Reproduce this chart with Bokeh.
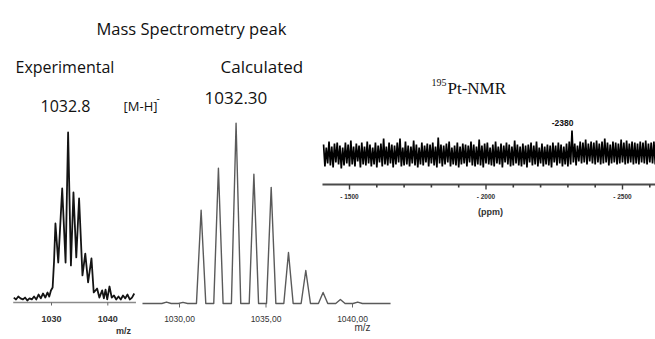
from bokeh.plotting import figure
from bokeh.models import Range1d, Label
from bokeh.core.properties import value
from bokeh.embed import file_html
from bokeh.resources import INLINE
import numpy as np

# ---------------- data ----------------
# Experimental MS trace (m/z, relative intensity %)
exp_mz = [1023.3, 1023.7, 1024.1, 1024.5, 1024.9, 1025.3, 1025.7, 1026.1, 1026.5, 1026.9,
          1027.3, 1027.7, 1028.1, 1028.5, 1028.9, 1029.3, 1029.6, 1029.9, 1030.2, 1030.45,
          1030.7, 1031.2, 1031.9, 1032.5, 1032.95, 1033.45, 1033.9, 1034.4, 1034.9, 1035.5,
          1036.0, 1036.5, 1037.1, 1037.5, 1038.1, 1038.5, 1039.0, 1039.3, 1039.6, 1039.9,
          1040.3, 1040.7, 1041.1, 1041.5, 1041.9, 1042.3, 1042.7, 1043.1, 1043.5, 1043.9,
          1044.3, 1044.7]
exp_int = [2.9, 1.8, 3.5, 2.4, 1.8, 2.9, 1.2, 2.4, 1.8, 3.5,
           1.8, 4.7, 2.4, 5.3, 2.9, 5.9, 3.5, 7.1, 8.8, 24.0,
           46.5, 23.5, 67.1, 23.5, 100.0, 21.8, 64.7, 26.5, 61.2, 15.9,
           28.8, 11.8, 25.9, 5.9, 8.2, 2.9, 7.1, 2.4, 7.6, 1.8,
           9.4, 2.9, 4.1, 1.8, 3.5, 1.8, 4.1, 2.4, 4.7, 1.8,
           2.9, 5.3]
exp_span = [1023.2, 1045.0]
exp_ticks = [1030, 1040]
exp_tick_labels = ["1030", "1040"]

# Calculated isotope pattern (m/z, relative intensity %)
calc_mz = [1029.25, 1030.2, 1031.25, 1032.25, 1033.27, 1034.3, 1035.3, 1036.3, 1037.3, 1038.3, 1039.3, 1040.3]
calc_int = [0.8, 0.6, 51.7, 75.0, 100.0, 71.7, 64.4, 28.3, 18.3, 6.1, 2.2, 0.8]
calc_span = [1027.86, 1042.2]
calc_ticks = [1030, 1035, 1040]
calc_tick_labels = ["1030,00", "1035,00", "1040,00"]

# 195Pt-NMR trace (intensity, a.u.) sampled every 5 ppm from -1405 ppm
nmr_amp = [10, -12, 7, -9, 13, -11, 8, -13, 11, -8,
           12, -10, 9, -14, 7, -11, 12, -9, 10, -12,
           14, -10, 8, -12, 11, -7, 9, -13, 12, -10,
           8, -11, 13, -9, 10, -12, 7, -10, 12, -13,
           9, -8, 11, -12, 16, -10, 8, -11, 12, -9,
           10, -13, 9, -10, 12, -8, 16, -12, 7, -11,
           13, -10, 9, -12, 8, -9, 14, -11, 10, -13,
           7, -10, 12, -11, 9, -8, 11, -12, 10, -9,
           12, -11, 8, -13, 17, -9, 10, -12, 9, -10,
           11, -8, 13, -12, 7, -10, 9, -11, 12, -13,
           8, -10, 11, -9, 10, -12, 9, -8, 13, -11,
           10, -12, 8, -10, 15, -11, 9, -13, 11, -9,
           12, -10, 7, -11, 10, -12, 13, -9, 8, -10,
           11, -13, 9, -8, 12, -10, 10, -12, 8, -11,
           14, -9, 10, -11, 8, -12, 11, -10, 9, -13,
           10, -8, 12, -11, 9, -10, 13, -12, 7, -9,
           11, -12, 8, -10, 10, -11, 9, -13, 12, -8,
           9, -11, 12, -9, 10, -12, 8, -10, 11, -12,
           13, -10, 24, -8, 11, -11, 9, -7, 13, -9,
           12, -8, 15, -10, 11, -7, 13, -9, 12, -10,
           14, -8, 11, -10, 13, -9, 16, -8, 12, -11,
           10, -9, 13, -8, 12, -10, 11, -9, 15, -8,
           12, -10, 14, -9, 11, -8, 13, -10, 12, -9,
           11, -10, 13, -8, 12, -9, 14, -10, 11, -8,
           12, -9, 13, -10]
nmr_ppm = list(np.arange(-1405, -1405 - 5 * len(nmr_amp), -5))
nmr_span = [-1401, -2620]
nmr_major_ticks = [-1500, -2000, -2500]
nmr_major_labels = ["- 1500", "- 2000", "- 2500"]
nmr_minor_ticks = [-1600, -1700, -1800, -1900, -2100, -2200, -2300, -2400, -2600]
nmr_peak_label = "-2380"

# ---------------- layout ----------------
W, H = 655, 339
XL, XR = 0, W              # reference pixel columns covered by the figure
YB, YT = H, 0              # reference pixel rows (bottom, top)


def fit(v0, p0, v1, p1, lo, hi):
    s = (v1 - v0) / (p1 - p0)
    return Range1d(start=v0 + (lo - p0) * s, end=v0 + (hi - p0) * s)


p = figure(width=W, height=H, x_range=Range1d(XL, XR), y_range=Range1d(YB, YT),
           x_axis_type=None, y_axis_type=None, toolbar_location=None,
           output_backend="svg", min_border=0, outline_line_color=None)
p.xgrid.visible = False
p.ygrid.visible = False

p.extra_x_ranges = {
    "exp": fit(1030, 51, 1040, 107.3, XL, XR),
    "calc": fit(1030, 179, 1040, 352, XL, XR),
    "nmr": fit(-1500, 349, -2500, 622, XL, XR),
}
p.extra_y_ranges = {
    "exp": fit(0, 302, 100, 132, YB, YT),
    "calc": fit(0, 303, 100, 122.7, YB, YT),
    "nmr": fit(0, 154, 10, 144, YB, YT),
}

SANS = value("Liberation Sans")

# ---- experimental panel ----
p.segment(x0=[exp_span[0]], x1=[exp_span[1]], y0=[302], y1=[302], x_range_name="exp",
          line_color="#8a8a8a", line_width=1.6)
p.segment(x0=exp_ticks, x1=exp_ticks, y0=302, y1=305, x_range_name="exp",
          line_color="#666666", line_width=1)
p.line(exp_mz, exp_int, x_range_name="exp", y_range_name="exp",
       line_color="#141414", line_width=1.8, line_join="round")
p.text(x=exp_ticks, y=318, text=exp_tick_labels, x_range_name="exp",
       text_font=SANS, text_font_size="9px", text_font_style="bold",
       text_align="center", text_baseline="alphabetic", text_color="#333333")

# ---- calculated panel ----
hw = 0.27
cx = [calc_span[0]]
cy = [0]
for c, h in zip(calc_mz, calc_int):
    cx += [c - hw, c, c + hw]
    cy += [0, h, 0]
cx.append(calc_span[1])
cy.append(0)
p.line(cx, cy, x_range_name="calc", y_range_name="calc",
       line_color="#5a5a5a", line_width=1.4, line_join="round")
p.segment(x0=calc_ticks, x1=calc_ticks, y0=303, y1=307, x_range_name="calc",
          line_color="#666666", line_width=1)
p.text(x=calc_ticks, y=318, text=calc_tick_labels, x_range_name="calc",
       text_font=SANS, text_font_size="8.5px",
       text_align="center", text_baseline="alphabetic", text_color="#333333")

# ---- NMR panel ----
p.line(nmr_ppm, nmr_amp, x_range_name="nmr", y_range_name="nmr",
       line_color="#000000", line_width=1.7)
p.segment(x0=[nmr_span[0]], x1=[nmr_span[1]], y0=[184], y1=[184], x_range_name="nmr",
          line_color="#4a4a4a", line_width=1.8)
p.segment(x0=nmr_major_ticks, x1=nmr_major_ticks, y0=184, y1=189, x_range_name="nmr",
          line_color="#3c3c3c", line_width=1.4)
p.segment(x0=nmr_minor_ticks, x1=nmr_minor_ticks, y0=184, y1=187, x_range_name="nmr",
          line_color="#3c3c3c", line_width=1.6)
p.text(x=nmr_major_ticks, y=196, text=nmr_major_labels, x_range_name="nmr",
       text_font=SANS, text_font_size="6.5px", text_font_style="bold",
       text_align="center", text_baseline="alphabetic", text_color="#333333")


def label(x, y, text, font, size, style="normal", align="left", color="#111111"):
    p.add_layout(Label(x=x, y=y, text=text, text_font=font,
                       text_font_size=size, text_font_style=style, text_align=align,
                       text_baseline="alphabetic", text_color=color))


label(96, 27.5, "Mass Spectrometry peak", "Open Sans", "16.5px")
label(15, 66, "Experimental", "Open Sans", "16px")
label(220, 66, "Calculated", "Open Sans", "17px")
label(40, 105, "1032.8", "Open Sans", "16px")
label(123, 105, "[M-H]", "Open Sans", "13px")
label(156, 97, "-", "Open Sans", "10px")
label(204, 97, "1032.30", "Open Sans", "17px")
label(123, 330, "m/z", "Liberation Sans", "9px", "bold", "center", "#333333")
label(362, 327, "m/z", "Liberation Sans", "10px", "normal", "center", "#333333")
label(431, 82, "195", "Liberation Serif", "10px")
label(447, 87.5, "Pt-NMR", "Liberation Serif", "17px")
label(562, 122, nmr_peak_label, "Liberation Sans", "8.5px", "bold", "center")
label(490, 211, "(ppm)", "Liberation Sans", "9px", "bold", "center", "#333333")

open("out.html", "w").write(file_html(p, INLINE))
